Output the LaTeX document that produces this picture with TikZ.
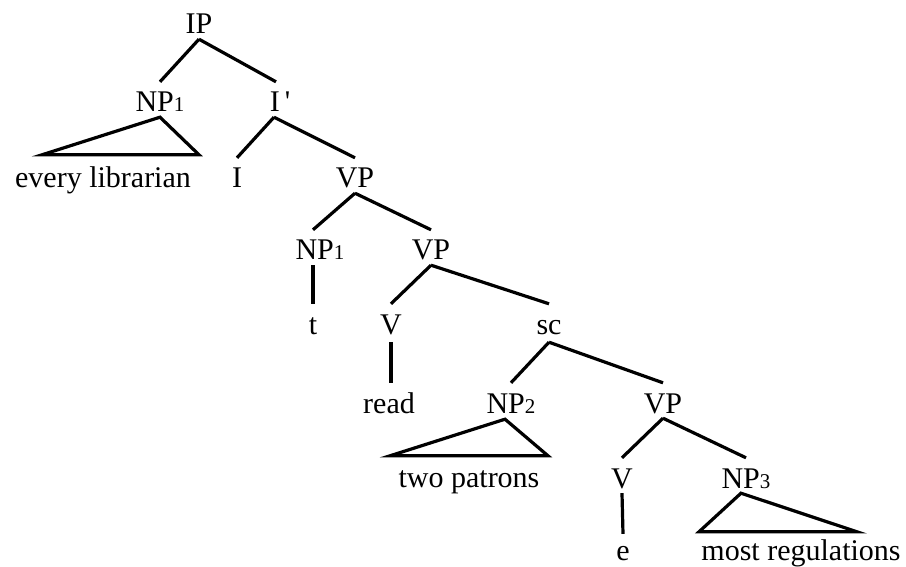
\documentclass[tikz,border=0pt]{standalone}
\usepackage{fontspec}
\setmainfont{Liberation Serif}
\usetikzlibrary{calc}
\newcommand{\idx}[1]{{\fontsize{21}{24}\selectfont #1}}

\begin{document}
\begin{tikzpicture}[x=1pt,y=-1pt,
    lbl/.style={inner sep=0pt,text height=20pt,text depth=0pt,anchor=base,
      font=\fontsize{30}{36}\selectfont},
    branch/.style={line width=3.2pt}]
  \useasboundingbox (0,0) rectangle (906,567);
  % labels, row by row
  \node[lbl] (ip) at (199,34) {IP};
  \node[lbl] (np1) at (160,112) {NP\idx{1}};
  \node[lbl] (ibar) at (280,112) {I\,\textquotesingle};
  \node[lbl] (evlib) at (103,188) {every librarian};
  \node[lbl] (i) at (237,188) {I};
  \node[lbl] (vp1) at (355,188) {VP};
  \node[lbl] (np1b) at (320,260) {NP\idx{1}};
  \node[lbl] (vp2) at (431,260) {VP};
  \node[lbl] (t) at (313,334) {t};
  \node[lbl] (v1) at (391,334) {V};
  \node[lbl] (sc) at (549,334) {sc};
  \node[lbl] (read) at (389,413) {read};
  \node[lbl] (np2) at (511,413) {NP\idx{2}};
  \node[lbl] (vp3) at (663,413) {VP};
  \node[lbl] (twopat) at (469,487) {two patrons};
  \node[lbl] (v2) at (622,488) {V};
  \node[lbl] (np3) at (746,488) {NP\idx{3}};
  \node[lbl] (e) at (623,560) {e};
  \node[lbl] (mostreg) at (801,560) {most regulations};
  % branches
  \draw[branch] ([yshift=-5pt]ip.south) -- ([yshift=10pt]np1.north);
  \draw[branch] ([yshift=-5pt]ip.south) -- ([yshift=10pt,xshift=-4pt]ibar.north);
  \draw[branch] ([yshift=-5pt,xshift=-6pt]ibar.south) -- ([yshift=10pt]i.north);
  \draw[branch] ([yshift=-5pt,xshift=-6pt]ibar.south) -- ([yshift=10pt]vp1.north);
  \draw[branch] ([yshift=-5pt]vp1.south) -- ([yshift=10pt]np1b.north -| t);
  \draw[branch] ([yshift=-5pt]vp1.south) -- ([yshift=10pt]vp2.north);
  \draw[branch] ([yshift=-5pt]np1b.south -| t) -- ([yshift=10pt]t.north);
  \draw[branch] ([yshift=-5pt]vp2.south) -- ([yshift=10pt]v1.north);
  \draw[branch] ([yshift=-5pt]vp2.south) -- ([yshift=10pt]sc.north);
  \draw[branch] ([yshift=-8pt]v1.south) -- ([yshift=10pt]read.north -| v1);
  \draw[branch] ([yshift=-8pt]sc.south) -- ([yshift=10pt]np2.north);
  \draw[branch] ([yshift=-8pt]sc.south) -- ([yshift=10pt]vp3.north);
  \draw[branch] ([yshift=-5pt]vp3.south) -- ([yshift=10pt]v2.north);
  \draw[branch] ([yshift=-5pt]vp3.south) -- ([yshift=10pt]np3.north);
  \draw[branch] ([yshift=-5pt]v2.south) -- ([yshift=6pt]e.north);
  % roof triangles
  \draw[branch] ([yshift=-5pt]np1.south) -- ($(evlib.north)+(-61,-13)$)
    -- ($(evlib.north)+(96,-13)$) -- cycle;
  \draw[branch] ([yshift=-6pt,xshift=-6pt]np2.south) -- ($(twopat.north)+(-79,-11)$)
    -- ($(twopat.north)+(79,-11)$) -- cycle;
  \draw[branch] ([yshift=-5pt,xshift=-5pt]np3.south) -- ($(mostreg.north)+(-102,-8)$)
    -- ($(mostreg.north)+(56,-8)$) -- cycle;
\end{tikzpicture}
\end{document}
